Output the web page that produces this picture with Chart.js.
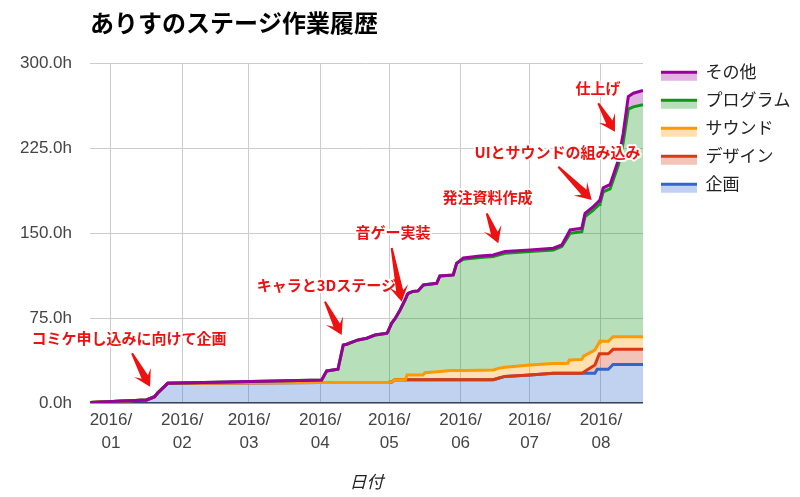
<!DOCTYPE html>
<html>
<head>
<meta charset="utf-8">
<script src="https://cdn.jsdelivr.net/npm/chart.js@4.4.1/dist/chart.umd.min.js"></script>
<style>
html,body{margin:0;padding:0;background:#fff;}
#wrap{width:800px;height:497px;position:relative;}
</style>
</head>
<body>
<div id="wrap"><canvas id="c" width="800" height="497"></canvas></div>
<script>
// ---- data (days counted from 2016/01/01, hours per category, running totals) ----
const days    = [-9, 15.5, 19, 20.3, 24.7, 91.6, 93.8, 98.7, 101, 102.5, 107.4, 111.2, 114.8, 119.9, 120.4, 122, 123.5, 124.2, 125.7, 128, 128.8, 129.3, 131.3, 133.5, 135.6, 135.8, 136.5, 141.6, 143, 147.4, 148.8, 150.3, 153.2, 160.4, 166.2, 168.4, 171.3, 182.2, 192.3, 196, 198.6, 199.3, 199.6, 204.7, 205.5, 206.1, 209.7, 210.4, 211.4, 212.3, 212.6, 214, 216.2, 217, 218.3, 220.6, 222.7, 224.9, 227.1, 231.3];
const kikaku  = [0.5, 2.7, 5.6, 8.8, 17.4, 18.2, 18.2, 18.2, 18.2, 18.2, 18.2, 18.2, 18.2, 18.2, 18.2, 18.6, 20.6, 20.6, 20.6, 20.6, 20.6, 20.6, 20.6, 20.6, 20.6, 20.6, 20.6, 20.6, 20.6, 20.6, 20.6, 20.6, 20.6, 20.6, 20.6, 21.9, 23.5, 24.7, 26.2, 26.2, 26.2, 26.2, 26.2, 26.2, 26.2, 26.2, 26.2, 26.2, 29.8, 29.8, 29.8, 29.8, 29.8, 31.4, 34.0, 34.0, 34.0, 34.0, 34.0, 34.0];
const design  = [0, 0, 0, 0, 0, 0, 0, 0, 0, 0, 0, 0, 0, 0, 0, 0, 0, 0, 0, 0, 0, 0, 0, 0, 0, 0, 0, 0, 0, 0, 0, 0, 0, 0, 0, 0, 0, 0, 0, 0, 0, 0, 0, 0, 1.0, 1.8, 6.5, 7.4, 8.9, 13.5, 13.6, 13.6, 13.7, 13.6, 13.4, 13.4, 13.4, 13.4, 13.4, 13.4];
const sound   = [0, 0, 0, 0, 0, 0, 0, 0, 0, 0, 0, 0, 0, 0, 0, 0, 0, 0, 0, 0, 4.1, 4.1, 4.1, 4.1, 4.1, 4.6, 6.2, 7.0, 7.3, 8.0, 8.0, 8.1, 8.2, 8.4, 8.6, 8.7, 8.0, 8.9, 8.6, 8.7, 8.8, 11.8, 11.8, 12.3, 14.3, 14.1, 13.3, 13.2, 11.6, 10.1, 11.1, 11.1, 11.0, 11.1, 11.2, 11.2, 11.2, 11.2, 11.2, 11.2];
const program = [0, 0, 0, 0, 0, 2.1, 10.1, 11.6, 33.0, 33.7, 37.5, 39.0, 41.8, 43.4, 44.8, 51.8, 53.9, 56.3, 61.6, 71.0, 70.8, 72.2, 73.8, 74.3, 79.0, 79.0, 77.6, 78.1, 84.3, 84.3, 84.5, 94.7, 98.2, 99.5, 100.1, 100.0, 100.7, 100.1, 100.4, 103.2, 111.5, 110.8, 111.8, 112.8, 117.4, 122.5, 124.4, 125.0, 123.4, 122.0, 121.5, 132.0, 134.0, 133.1, 138.1, 151.4, 171.4, 200.9, 202.9, 204.9];
const other   = [0, 0, 0, 0, 0, 0, 0, 0, 0, 0, 0, 0, 0, 0, 0, 0, 0, 0, 0, 0, 0, 0, 0, 0, 0, 0, 0, 0, 0, 0, 0, 0, 1.0, 1.3, 1.4, 1.4, 1.5, 1.5, 1.5, 1.5, 2.6, 2.9, 3.0, 3.0, 3.0, 3.0, 3.0, 3.0, 3.1, 3.3, 3.5, 3.5, 3.6, 3.7, 3.9, 4.7, 8.3, 11.1, 12.1, 12.5];

const seriesNames = ['企画', 'デザイン', 'サウンド', 'プログラム', 'その他'];
const monthTickDays = [0, 31, 60, 91, 121, 152, 182, 213];
const monthTickLabels = [['2016/','01'],['2016/','02'],['2016/','03'],['2016/','04'],['2016/','05'],['2016/','06'],['2016/','07'],['2016/','08']];
const yTickValues = [0, 75, 150, 225, 300];

const annotationTexts = ['コミケ申し込みに向けて企画', 'キャラと3Dステージ', '音ゲー実装', '発注資料作成', 'UIとサウンドの組み込み', '仕上げ'];
const annotationDays  = [17, 100.3, 126.4, 168.4, 209, 219.1];
const annotationHours = [14.4, 60.1, 89.5, 141, 179.3, 239.6];

// ---- styles ----
const lineColors = ['#3366CC', '#DC3912', '#FF9900', '#109618', '#990099'];
const fillColors = ['rgba(51,102,204,0.3)', 'rgba(220,57,18,0.3)', 'rgba(255,153,0,0.3)', 'rgba(16,150,24,0.3)', 'rgba(153,0,153,0.3)'];
const legendFill = ['#c2d1f0', '#f5c4b8', '#ffe0b3', '#b7dfba', '#e0b3e0'];
// tail dx, tail dy, text dx, text dy (pixels relative to arrow tip)
const annotationLayout = [
  [-18, -33.4, -21, -48.7],
  [-16.7, -33.3, -15.2, -49.5],
  [-10, -53.7, -8.7, -69.2],
  [-11.6, -30, -10.8, -46.3],
  [-33.4, -33.3, -34.2, -48],
  [-16.7, -28.4, -17, -43.4]
];

const JP = "'Noto Sans CJK JP', 'Noto Sans', sans-serif";
const LAT = "'Liberation Sans', Arial, 'Noto Sans CJK JP', sans-serif";

// ---- build stacked (cumulative) layers ----
const layers = [kikaku, design, sound, program, other];
const cumulative = [];
let running = days.map(() => 0);
layers.forEach(arr => {
  running = running.map((v, j) => v + arr[j]);
  cumulative.push(running.slice());
});

// legend icons (line on top, light fill below)
function makeIcon(i) {
  const cv = document.createElement('canvas');
  cv.width = 36; cv.height = 20;
  const g = cv.getContext('2d');
  g.fillStyle = legendFill[i];
  g.fillRect(0, 12, 36, 7);
  g.fillStyle = lineColors[i];
  g.fillRect(0, 9, 36, 3);
  return cv;
}

const datasets = [];
for (let k = layers.length - 1; k >= 0; k--) {
  datasets.push({
    label: seriesNames[k],
    data: days.map((d, j) => ({x: d, y: cumulative[k][j]})),
    borderColor: lineColors[k],
    backgroundColor: fillColors[k],
    borderWidth: 3,
    pointRadius: 0,
    tension: 0,
    fill: k === 0 ? 'origin' : '+1',
    _icon: makeIcon(k)
  });
}

function drawArrow(ctx, x0, y0, x1, y1) {
  const dx = x1 - x0, dy = y1 - y0, L = Math.hypot(dx, dy);
  const ux = dx / L, uy = dy / L, nx = -uy, ny = ux;
  const headLen = 16, headHalf = 9.5, shaftEnd = 11, tailHalf = 1, shaftHalf = 3.6;
  const sx = x1 - ux * shaftEnd, sy = y1 - uy * shaftEnd;
  const bx = x1 - ux * headLen, by = y1 - uy * headLen;
  ctx.beginPath();
  ctx.moveTo(x0 + nx * tailHalf, y0 + ny * tailHalf);
  ctx.lineTo(sx + nx * shaftHalf, sy + ny * shaftHalf);
  ctx.lineTo(bx + nx * headHalf, by + ny * headHalf);
  ctx.lineTo(x1, y1);
  ctx.lineTo(bx - nx * headHalf, by - ny * headHalf);
  ctx.lineTo(sx - nx * shaftHalf, sy - ny * shaftHalf);
  ctx.lineTo(x0 - nx * tailHalf, y0 - ny * tailHalf);
  ctx.closePath();
  ctx.fill();
}

const annotationPlugin = {
  id: 'notes',
  afterDatasetsDraw(chart) {
    const ctx = chart.ctx, xs = chart.scales.x, ys = chart.scales.y;
    ctx.save();
    annotationTexts.forEach((t, i) => {
      const tx = xs.getPixelForValue(annotationDays[i]);
      const ty = ys.getPixelForValue(annotationHours[i]);
      const [tdx, tdy, lx, ly] = annotationLayout[i];
      ctx.font = 'bold 15px ' + JP;
      ctx.textAlign = 'center';
      ctx.textBaseline = 'middle';
      ctx.lineJoin = 'round';
      ctx.strokeStyle = '#ffffff';
      ctx.lineWidth = 4;
      ctx.strokeText(t, tx + lx, ty + ly);
      ctx.fillStyle = '#ee1111';
      ctx.fillText(t, tx + lx, ty + ly);
      ctx.fillStyle = '#ee1111';
      drawArrow(ctx, tx + tdx, ty + tdy, tx, ty);
    });
    ctx.restore();
  }
};

const legendPlacer = {
  id: 'legendPlacer',
  beforeLayout(chart) {
    const lg = chart.legend;
    if (lg && !lg._patched) {
      const f = lg.fit;
      lg.fit = function () { f.call(this); this.width = 157; };
      lg._patched = true;
    }
  },
  afterLayout(chart) {
    const lg = chart.legend;
    if (lg) { lg.left = 650; lg.top = 52.2; }
  }
};

new Chart(document.getElementById('c'), {
  type: 'line',
  data: { datasets },
  plugins: [legendPlacer, annotationPlugin],
  options: {
    responsive: false,
    animation: false,
    events: [],
    layout: { padding: 0 },
    plugins: {
      filler: { drawTime: 'beforeDatasetsDraw' },
      title: {
        display: true,
        text: 'ありすのステージ作業履歴',
        align: 'start',
        fullSize: false,
        color: '#000',
        font: { family: JP, size: 24, weight: 'bold', lineHeight: 1.2 },
        padding: { top: 8, bottom: 26.5 }
      },
      legend: {
        position: 'right',
        align: 'start',
        labels: {
          usePointStyle: true,
          pointStyleWidth: 36,
          color: '#222',
          padding: 11,
          font: { family: JP, size: 17 },
          generateLabels(chart) {
            const items = Chart.defaults.plugins.legend.labels.generateLabels(chart);
            items.forEach(it => { it.pointStyle = chart.data.datasets[it.datasetIndex]._icon; });
            return items;
          }
        }
      },
      tooltip: { enabled: false }
    },
    scales: {
      x: {
        type: 'linear',
        min: -9.1,
        max: 231.3,
        afterFit(s) { s.height = 94; },
        afterBuildTicks(s) { s.ticks = monthTickDays.map(v => ({ value: v })); },
        ticks: {
          autoSkip: false,
          maxRotation: 0,
          padding: 5.5,
          color: '#444',
          font: { family: LAT, size: 17, lineHeight: 23 / 17 },
          callback(v) { const i = monthTickDays.indexOf(v); return i >= 0 ? monthTickLabels[i] : ''; }
        },
        grid: { color: '#cccccc', lineWidth: 1, drawTicks: false },
        border: { display: false },
        title: {
          display: true,
          text: '日付',
          color: '#222',
          font: { family: JP, size: 17, style: 'italic', lineHeight: 1.2 },
          padding: { top: 0, bottom: 4.8 }
        }
      },
      y: {
        min: 0,
        max: 300,
        afterFit(s) { s.width = 90; },
        afterBuildTicks(s) { s.ticks = yTickValues.map(v => ({ value: v })); },
        ticks: {
          padding: 18,
          color: '#444',
          font: { family: LAT, size: 17 },
          callback(v) { return v.toFixed(1) + 'h'; }
        },
        grid: {
          color: c => (c.tick && c.tick.value === 0) ? '#333333' : '#cccccc',
          lineWidth: c => (c.tick && c.tick.value === 0) ? 1.5 : 1,
          drawTicks: false
        },
        border: { display: false }
      }
    }
  }
});
</script>
</body>
</html>
